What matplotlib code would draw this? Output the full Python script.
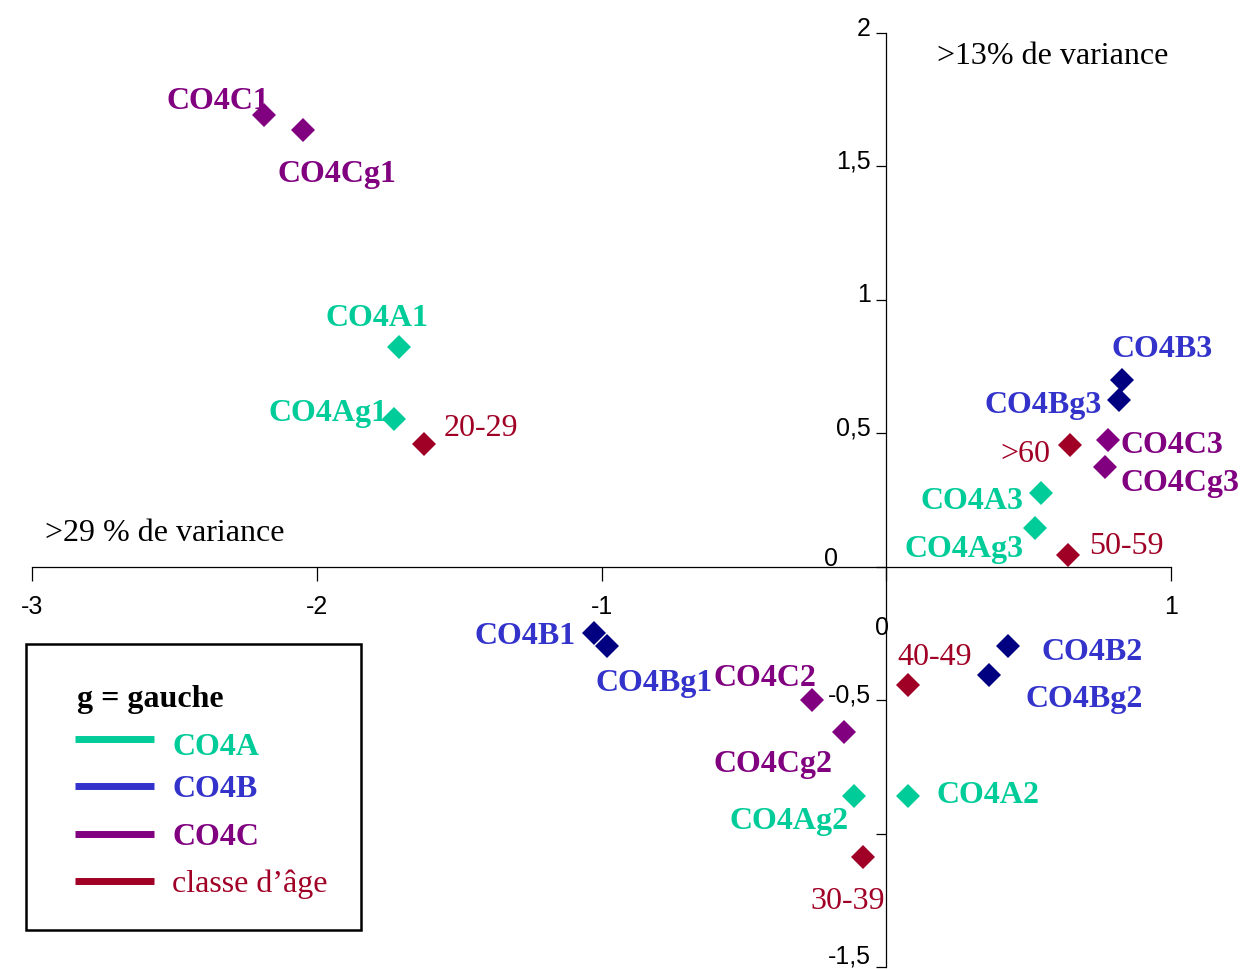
import numpy as np
import matplotlib
matplotlib.use('Agg')
import matplotlib.pyplot as plt
from matplotlib.patches import Rectangle
from matplotlib.lines import Line2D
import matplotlib.transforms as mtrans

# data
labels = ['CO4C1', 'CO4Cg1', 'CO4A1', 'CO4Ag1', '20-29', 'CO4B1', 'CO4Bg1',
          'CO4C2', 'CO4Cg2', 'CO4Ag2', 'CO4A2', '30-39', '40-49', 'CO4B2',
          'CO4Bg2', 'CO4B3', 'CO4Bg3', '>60', 'CO4C3', 'CO4Cg3', 'CO4A3',
          'CO4Ag3', '50-59']
xs = [-2.186, -2.049, -1.712, -1.730, -1.625, -1.025, -0.982,
      -0.260, -0.147, -0.112, 0.077, -0.081, 0.077, 0.428,
      0.361, 0.828, 0.818, 0.646, 0.779, 0.768, 0.544,
      0.523, 0.639]
ys = [1.693, 1.637, 0.824, 0.554, 0.461, -0.247, -0.296,
      -0.498, -0.618, -0.858, -0.858, -1.086, -0.442, -0.296,
      -0.404, 0.700, 0.625, 0.457, 0.476, 0.375, 0.277,
      0.146, 0.045]
groups = ['C', 'C', 'A', 'A', 'age', 'B', 'B',
          'C', 'C', 'A', 'A', 'age', 'age', 'B',
          'B', 'B', 'B', 'age', 'C', 'C', 'A',
          'A', 'age']

legend_names = ['CO4A', 'CO4B', 'CO4C', 'classe d\u2019\u00e2ge']
legend_groups = ['A', 'B', 'C', 'age']

xticks = [-3, -2, -1, 0, 1]
xticklabels = ['-3', '-2', '-1', '', '1']
yticks = [-1.5, -1, -0.5, 0, 0.5, 1, 1.5, 2]
yticklabels = ['-1,5', '', '-0,5', '', '0,5', '1', '1,5', '2']

# styles
marker_col = {'A': '#00CC99', 'B': '#000080', 'C': '#800080', 'age': '#A00025'}
text_col = {'A': '#00CC99', 'B': '#3333CC', 'C': '#800080', 'age': '#A00025'}
line_col = {'A': '#00CC99', 'B': '#3333CC', 'C': '#800080', 'age': '#A00025'}

# label offsets in pixels (dx, dy up to baseline)
offsets = [(-46, 7), (34, -51), (-22, 22), (-66, -1), (57, 9), (-69, -10), (47, -44),
           (-47, 15), (-71, -39), (-65, -32), (80, -6), (-15, -51), (27, 21), (84, -13),
           (95, -31), (40, 24), (-76, -12), (-45, -16), (64, -12), (75, -23), (-69, -15),
           (-71, -28), (58, 2)]

W, H = 1250, 970
fig = plt.figure(figsize=(W / 100, H / 100), dpi=100)
ax = fig.add_axes([32 / W, 2 / H, (1171 - 32) / W, (968 - 34) / H])
ax.set_xlim(-3, 1)
ax.set_ylim(-1.5, 2)
ax.patch.set_visible(False)

for s in ['top', 'right']:
    ax.spines[s].set_visible(False)
ax.spines['left'].set_position(('data', 0))
ax.spines['bottom'].set_position(('data', 0))
for s in ['left', 'bottom']:
    ax.spines[s].set_linewidth(0.9)

ax.set_xticks(xticks, xticklabels)
ax.set_yticks(yticks, yticklabels)
ax.tick_params(axis='x', direction='out', length=10, width=0.9, pad=10, labelsize=18)
ax.tick_params(axis='y', direction='out', length=7, width=0.9, pad=4, labelsize=18)
for t in ax.get_xticklabels() + ax.get_yticklabels():
    t.set_fontfamily('Liberation Sans')
ylabs = ax.get_yticklabels()
for i, t in enumerate(ylabs):
    up = 0.14 if i == 0 else 0.08
    t.set_transform(t.get_transform() + mtrans.ScaledTranslation(0, up, fig.dpi_scale_trans))

# the two zero labels sit apart in the original
ax.annotate('0', (0, 0), xytext=(-55, 9), textcoords='offset pixels', fontsize=18,
            family='Liberation Sans', ha='center', va='center')
ax.annotate('0', (0, 0), xytext=(-4, -60), textcoords='offset pixels', fontsize=18,
            family='Liberation Sans', ha='center', va='center')

for x, y, lab, g, (dx, dy) in zip(xs, ys, labels, groups, offsets):
    ax.plot(x, y, marker='D', ms=12, mew=0, color=marker_col[g], linestyle='none', clip_on=False)
    bold = g != 'age'
    ax.annotate(lab, (x, y), xytext=(dx, dy), textcoords='offset pixels',
                ha='center', va='baseline', family='Liberation Serif',
                fontsize=23, fontweight='bold' if bold else 'normal',
                color=text_col[g])

fig.text(937 / W, 1 - 64 / H, '>13% de variance', family='Liberation Serif',
         fontsize=23, ha='left', va='baseline')
fig.text(45 / W, 1 - 541 / H, '>29 % de variance', family='Liberation Serif',
         fontsize=23, ha='left', va='baseline')

# legend box drawn by hand
fig.add_artist(Rectangle((26 / W, 1 - 931 / H), (361 - 26) / W, (931 - 645) / H,
                         transform=fig.transFigure, fill=False, lw=1.8, color='black'))
fig.text(77 / W, 1 - 707 / H, 'g = gauche', family='Liberation Serif', fontsize=23,
         fontweight='bold', ha='left', va='baseline')
leg_y = [740, 787, 835, 882]
leg_base = [755, 797, 845, 892]
for name, g, ly, lb in zip(legend_names, legend_groups, leg_y, leg_base):
    fig.add_artist(Line2D([75 / W, 154 / W], [1 - ly / H, 1 - ly / H], transform=fig.transFigure,
                          color=line_col[g], lw=5, solid_capstyle='butt'))
    bold = g != 'age'
    fig.text(172 / W, 1 - lb / H, name, family='Liberation Serif',
             fontsize=23, fontweight='bold' if bold else 'normal',
             color=text_col[g], ha='left', va='baseline')

fig.savefig('out.png', dpi=100)
